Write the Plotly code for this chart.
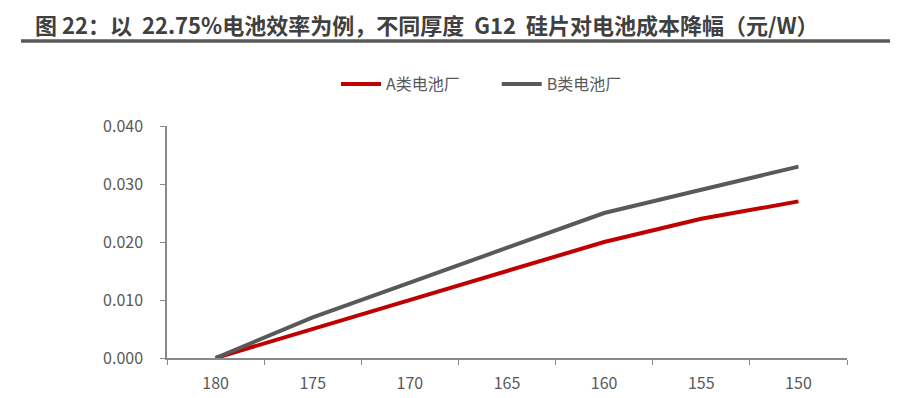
import plotly.graph_objects as go

categories = ["180", "175", "170", "165", "160", "155", "150"]
series_a = [0.000, 0.005, 0.010, 0.015, 0.020, 0.024, 0.027]
series_b = [0.000, 0.007, 0.013, 0.019, 0.025, 0.029, 0.033]
y_ticks = [0.0, 0.01, 0.02, 0.03, 0.04]
y_tick_labels = ["0.000", "0.010", "0.020", "0.030", "0.040"]
series_names = ["A类电池厂", "B类电池厂"]
title_text = "图 22：以  22.75%电池效率为例，不同厚度  G12  硅片对电池成本降幅（元/W）"

OFF = 8  # body margin of the page
W, H = 898 - OFF, 398 - OFF
L, T = 167 - OFF, 126 - OFF
R = 898 - 847
B = 398 - 358
pw, ph = W - L - R, H - T - B

def px_x(p):
    return (p - OFF - L) / pw

def px_y(p):
    return (H - B - (p - OFF)) / ph

font_family = "Noto Sans CJK SC, Noto Sans, sans-serif"

fig = go.Figure()
fig.add_trace(go.Scatter(x=categories, y=series_a, mode="lines", name=series_names[0] + "\u2003\u2003",
                         line=dict(color="#C00000", width=4)))
fig.add_trace(go.Scatter(x=categories, y=series_b, mode="lines", name=series_names[1],
                         line=dict(color="#595959", width=4)))

fig.update_layout(
    width=W, height=H,
    margin=dict(l=L, r=R, t=T, b=B, autoexpand=False),
    paper_bgcolor="white", plot_bgcolor="white",
    font=dict(family=font_family, size=16, color="#595959"),
    showlegend=True,
    legend=dict(orientation="h", x=px_x(336), y=px_y(84), xanchor="left", yanchor="middle",
                font=dict(size=16, color="#595959"), tracegroupgap=0, itemwidth=40,
                bgcolor="rgba(0,0,0,0)"),
    xaxis=dict(type="category", range=[-0.5, 6.5], showgrid=False, showline=True,
               linecolor="#898989", linewidth=1.5, ticks="outside", tickson="boundaries",
               ticklen=5, tickcolor="#898989", tickfont=dict(size=16, color="#595959"),
               ticklabelstandoff=10, zeroline=False, automargin=False),
    yaxis=dict(range=[0, 0.04], tickvals=y_ticks, ticktext=y_tick_labels, showgrid=False,
               showline=True, linecolor="#898989", linewidth=1.5, ticks="outside",
               ticklen=5, tickcolor="#898989", tickfont=dict(size=16, color="#595959"),
               ticklabelstandoff=14, zeroline=False, automargin=False),
    annotations=[dict(text="<b>" + title_text + "</b>", xref="paper", yref="paper",
                      x=px_x(33), y=px_y(24), xanchor="left", yanchor="middle",
                      showarrow=False, font=dict(size=22, color="#404040", family=font_family))],
    shapes=[dict(type="line", xref="paper", yref="paper", x0=px_x(21), x1=px_x(898),
                 y0=px_y(41), y1=px_y(41), line=dict(color="#595959", width=3.5))],
)

fig.write_html("out.html")
